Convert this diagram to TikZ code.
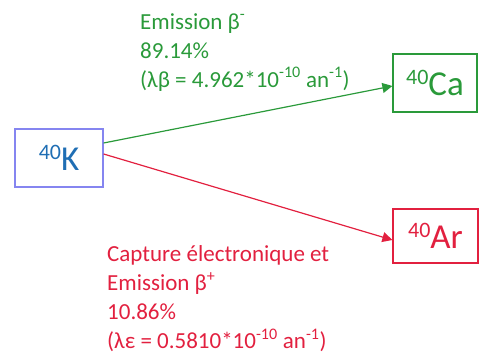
\documentclass[tikz,border=0pt]{standalone}
\usepackage{fontspec}
\setmainfont{Carlito}
\usepackage{xcolor}
\usetikzlibrary{arrows.meta,positioning}
\definecolor{kblue}{HTML}{1F6EB4}
\definecolor{kframe}{HTML}{8585F0}
\definecolor{cagreen}{HTML}{2A9A3A}
\definecolor{arred}{HTML}{E2203F}
\newcommand\iso[2]{\raisebox{11pt}{\fontsize{22}{22}\selectfont #1}\fontsize{35}{35}\selectfont #2}

\begin{document}
\begin{tikzpicture}[x=1pt,y=-1pt]
                \tikzstyle{block} = [draw, rectangle, line width=1.2pt, fill=white, inner sep=0pt]
                \tikzstyle{decay} = [line width=1.2pt, -{Triangle[length=10pt,width=10pt]}]
                \tikzstyle{info} = [anchor=north west, inner sep=0pt, align=left, font=\fontsize{23}{29}\selectfont]
                \useasboundingbox (0,0) rectangle (481,356);

                \node [block, draw=kframe, text=kblue, minimum width=88pt, minimum height=58pt] (k40) at (59,158) {\iso{40}{K}};
                \node [block, draw=cagreen, text=cagreen, minimum width=84pt, minimum height=58pt] (ca40) at (435,83) {\iso{40}{Ca}};
                \node [block, draw=arred, text=arred, minimum width=85pt, minimum height=54pt] (ar40) at (435.5,236) {\iso{40}{Ar}};

                \node [info, text=cagreen] (beta-minus) at (140,13) {Emission β\textsuperscript{-}\\89.14\%\\(λβ = 4.962*10\textsuperscript{-10} an\textsuperscript{-1})};
                \node [info, text=arred] (capture) at (107,245) {Capture électronique et\\Emission β\textsuperscript{+}\\10.86\%\\(λε = 0.5810*10\textsuperscript{-10} an\textsuperscript{-1})};

                \draw [decay, cagreen] ([yshift=15pt]k40.east) -- ([yshift=-3pt]ca40.west);
                \draw [decay, arred] ([yshift=4pt]k40.east) -- ([yshift=-4pt]ar40.west);
\end{tikzpicture}
\end{document}
